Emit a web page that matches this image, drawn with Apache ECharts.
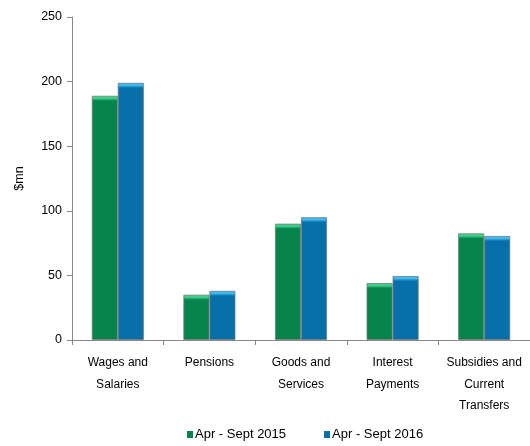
<!DOCTYPE html>
<html>
<head>
<meta charset="utf-8">
<script src="https://cdn.jsdelivr.net/npm/echarts@6/dist/echarts.min.js"></script>
<style>
  html, body { margin: 0; padding: 0; background: #fff; }
  #chart { width: 530px; height: 446px; }
</style>
</head>
<body>
<div id="chart"></div>
<script>
// Expenditure by category, $mn
var categories = ['Wages and\nSalaries', 'Pensions', 'Goods and\nServices', 'Interest\nPayments', 'Subsidies and\nCurrent\nTransfers'];
var seriesNames = ['Apr - Sept 2015', 'Apr - Sept 2016'];
var values2015 = [189, 35, 90, 44, 82.5];
var values2016 = [199, 38, 95, 49.5, 80.5];
var yTicks = [0, 50, 100, 150, 200, 250];

var FONT = '"Liberation Sans", Arial, sans-serif';
var PLOT_H = 323; // grid height in px
var Y_MAX = yTicks[yTicks.length - 1];

// Bevelled bar fill: a thin light band across the top, darker edge at the bottom
function bevel(value, top, base, bottom) {
  var h = Math.max(value * PLOT_H / Y_MAX, 1);
  var t = Math.min(5 / h, 0.4);
  var b = Math.min(2 / h, 0.2);
  return new echarts.graphic.LinearGradient(0, 0, 0, 1, [
    { offset: 0, color: top },
    { offset: t * 0.5, color: top },
    { offset: t, color: base },
    { offset: 1 - b, color: base },
    { offset: 1, color: bottom }
  ]);
}

function styledData(values, top, base, bottom, border) {
  return values.map(function (v) {
    return { value: v, itemStyle: { color: bevel(v, top, base, bottom), borderColor: border, borderWidth: 0.8 } };
  });
}

var chart = echarts.init(document.getElementById('chart'), null, { renderer: 'canvas' });
chart.setOption({
  animation: false,
  textStyle: { fontFamily: FONT },
  grid: { left: 72, right: 0, top: 17, bottom: 106, containLabel: false },
  legend: {
    bottom: 0,
    left: 182,
    itemWidth: 6,
    itemHeight: 7,
    itemGap: 38,
    icon: 'rect',
    textStyle: { fontFamily: FONT, fontSize: 13, color: '#000', padding: [0, 0, 0, -3] },
    data: [
      { name: seriesNames[0], itemStyle: { color: '#07834c' } },
      { name: seriesNames[1], itemStyle: { color: '#0770a8' } }
    ]
  },
  xAxis: {
    type: 'category',
    data: categories,
    axisLine: { lineStyle: { color: '#888', width: 1 } },
    axisTick: { show: true, alignWithLabel: false, length: 5, lineStyle: { color: '#888' } },
    axisLabel: { fontFamily: FONT, fontSize: 12, color: '#000', lineHeight: 21.5, margin: 12, interval: 0 }
  },
  yAxis: {
    type: 'value',
    min: yTicks[0],
    max: Y_MAX,
    interval: 50,
    name: '$mn',
    nameLocation: 'middle',
    nameRotate: 90,
    nameGap: 46,
    nameTextStyle: { fontFamily: FONT, fontSize: 12.5, color: '#000' },
    axisLine: { show: true, lineStyle: { color: '#888' } },
    axisTick: { show: true, length: 5, lineStyle: { color: '#888' } },
    splitLine: { show: false },
    axisLabel: { fontFamily: FONT, fontSize: 12.5, color: '#000', margin: 10 }
  },
  series: [
    {
      name: seriesNames[0],
      type: 'bar',
      data: styledData(values2015, '#3fd08a', '#07834c', '#05603a', '#6f7f78'),
      barWidth: 26,
      barGap: '0%',
      itemStyle: { color: '#07834c' }
    },
    {
      name: seriesNames[1],
      type: 'bar',
      data: styledData(values2016, '#40b8f0', '#0770a8', '#055480', '#6f7880'),
      barWidth: 26,
      barGap: '0%',
      itemStyle: { color: '#0770a8' }
    }
  ]
});
</script>
</body>
</html>
